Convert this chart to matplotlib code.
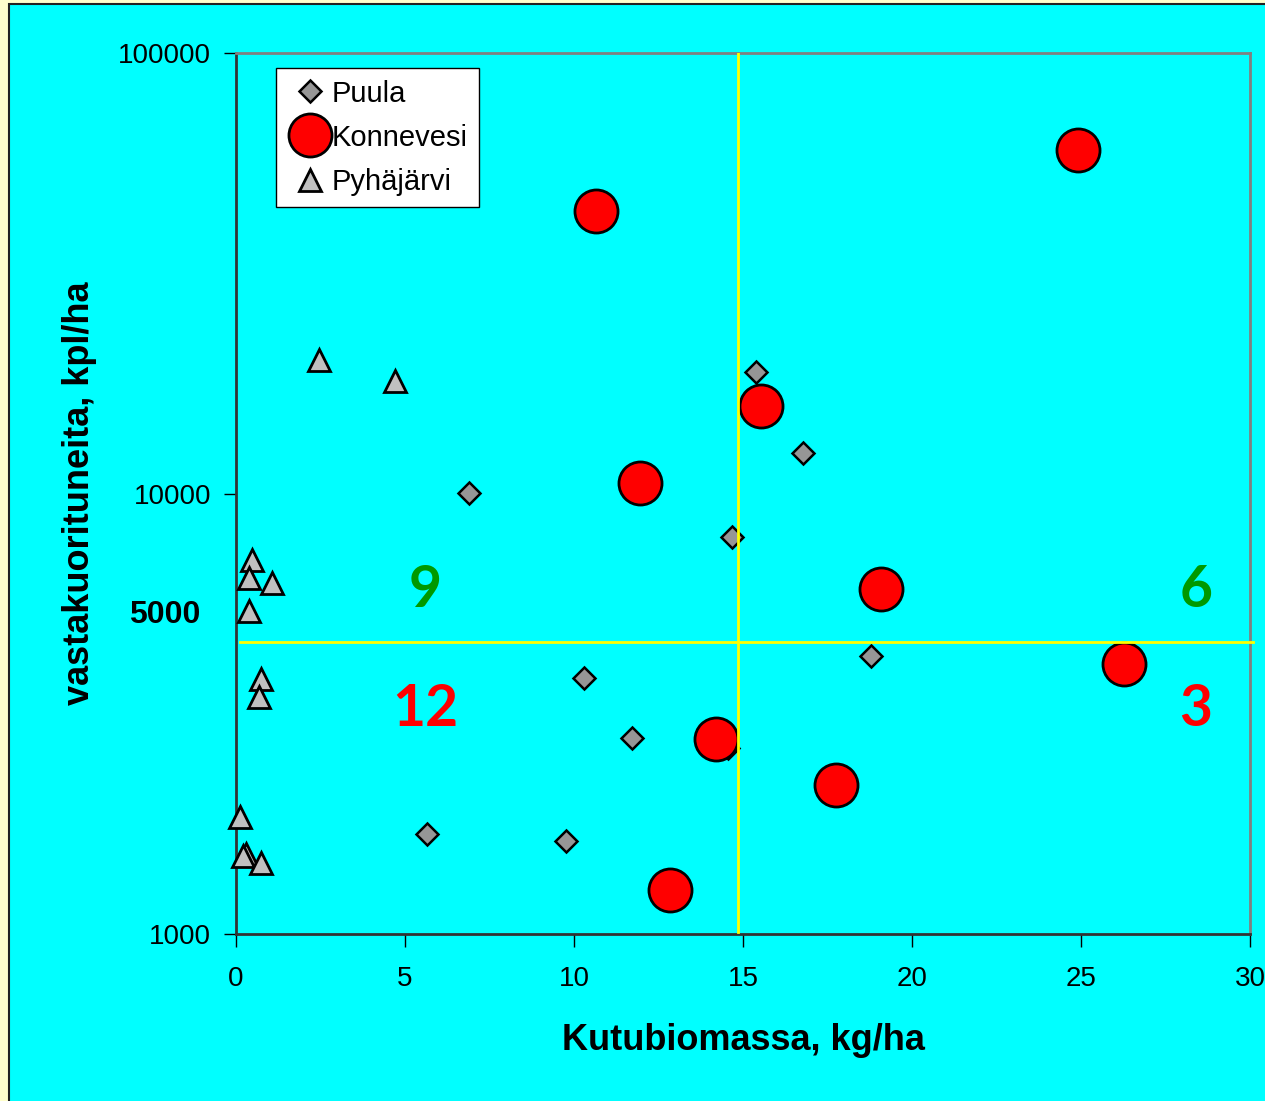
import matplotlib.pyplot as plt
from matplotlib.patches import Rectangle

# Puula
puula_x = [6.89, 15.38, 16.78, 14.67, 18.79, 10.30, 11.72, 5.65, 9.76, 14.56]
puula_y = [10050, 18840, 12330, 7980, 4270, 3820, 2790, 1683, 1622, 2650]

# Konnevesi
konne_x = [10.65, 24.91, 15.53, 11.95, 19.08, 26.27, 14.20, 17.75, 12.84]
konne_y = [43850, 60100, 15760, 10590, 6080, 4110, 2770, 2183, 1256]

# Pyhäjärvi
pyha_x = [2.46, 4.70, 0.47, 0.38, 1.07, 0.38, 0.74, 0.68, 0.12, 0.30, 0.20, 0.74]
pyha_y = [20140, 18050, 7080, 6440, 6250, 5400, 3800, 3460, 1839, 1523, 1500, 1446]

x_ticks = [0, 5, 10, 15, 20, 25, 30]
y_ticks = [1000, 10000, 100000]

# quadrant limits and counts
x_limit = 14.85
y_limit = 4613
counts = [("9", 5.6, 6030, "#009900"), ("6", 28.4, 6030, "#009900"),
          ("12", 5.6, 3228, "#ff0000"), ("3", 28.4, 3228, "#ff0000")]

plt.rcParams["font.family"] = ["Liberation Sans", "DejaVu Sans"]

fig = plt.figure(figsize=(12.65, 11.01), dpi=100, facecolor="#ffffcc")
fig.patches.append(Rectangle((9 / 1265, -0.01), 1.1, 1 - 4 / 1101 + 0.01,
                             transform=fig.transFigure, facecolor="#00ffff",
                             edgecolor="#222222", linewidth=1.5, zorder=-5))

ax = fig.add_axes([236 / 1265, 167 / 1101, 1014 / 1265, 881 / 1101])
ax.set_facecolor("#00ffff")
ax.set_yscale("log")
ax.set_xlim(0, 30)
ax.set_ylim(1000, 100000)

ax.plot(puula_x, puula_y, "D", ms=11, mfc="#969696", mec="black", mew=1.8,
        ls="none", label="Puula", zorder=3)
ax.plot(konne_x, konne_y, "o", ms=31, mfc="#ff0000", mec="black", mew=2,
        ls="none", label="Konnevesi", zorder=4)
ax.plot(pyha_x, pyha_y, "^", ms=16, mfc="#c0c0c0", mec="black", mew=2,
        ls="none", label="Pyhäjärvi", zorder=3, clip_on=False)

ax.plot([x_limit, x_limit], [1010, 100000], color="#ffff00", lw=2, zorder=5)
ax.plot([0.12, 30.1], [y_limit, y_limit], color="#ffff00", lw=2, zorder=5, clip_on=False)

for txt, x, y, c in counts:
    ax.text(x, y, txt, color=c, fontsize=41, fontweight="bold", family="Lato",
            ha="center", va="center", zorder=6)

ax.text(-1.05, 5300, "5000", fontsize=23, fontweight="bold", ha="right", va="center")

ax.set_xticks(x_ticks)
ax.set_xticklabels([str(v) for v in x_ticks])
ax.set_yticks(y_ticks)
ax.set_yticklabels([str(v) for v in y_ticks])
ax.minorticks_off()
ax.tick_params(axis="both", labelsize=20, length=9, width=1, direction="out")
ax.tick_params(axis="x", pad=14)
ax.tick_params(axis="y", pad=9)

ax.spines["left"].set_color("#333333")
ax.spines["bottom"].set_color("#333333")
ax.spines["top"].set_color("#808080")
ax.spines["right"].set_color("#808080")
for s in ax.spines.values():
    s.set_linewidth(2)

ax.set_xlabel("Kutubiomassa, kg/ha", fontsize=26, fontweight="bold", labelpad=22)
ax.set_ylabel("vastakuorituneita, kpl/ha", fontsize=26, fontweight="bold", labelpad=15)

leg = ax.legend(loc="upper left", bbox_to_anchor=(276 / 1265, 1 - 68 / 1101),
                bbox_transform=fig.transFigure, fontsize=21, frameon=True,
                fancybox=False, edgecolor="black", framealpha=1,
                handletextpad=0.0, handlelength=1.5, borderpad=0.4,
                labelspacing=0.55, borderaxespad=0)
leg.get_frame().set_linewidth(1)

fig.savefig("out.png", dpi=100, facecolor=fig.get_facecolor())
